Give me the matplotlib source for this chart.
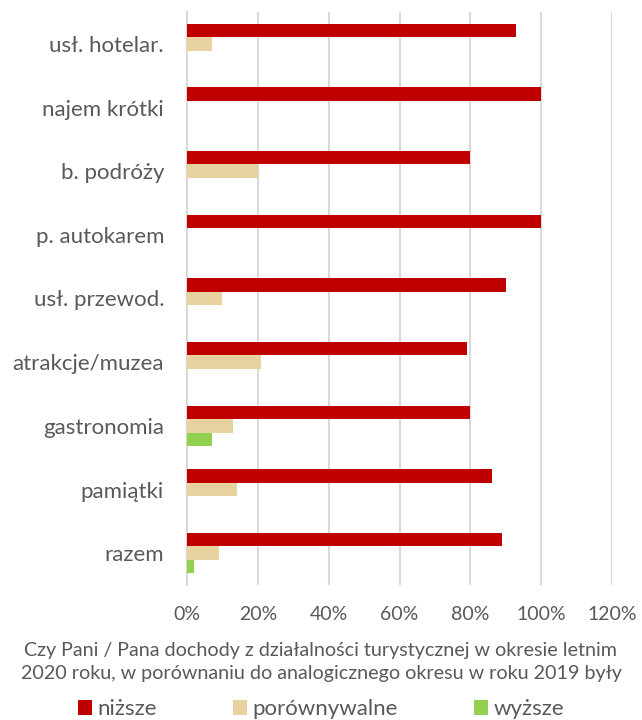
import numpy as np
import matplotlib.pyplot as plt

plt.rcParams['font.family'] = ['Lato', 'DejaVu Sans']

categories = ['usł. hotelar.', 'najem krótki', 'b. podróży', 'p. autokarem',
              'usł. przewod.', 'atrakcje/muzea', 'gastronomia', 'pamiątki', 'razem']
nizsze = [93, 100, 80, 100, 90, 79, 80, 86, 89]
porownywalne = [7, 0, 20, 0, 10, 21, 13, 14, 9]
wyzsze = [0, 0, 0, 0, 0, 0, 7, 0, 2]
series_names = ['niższe', 'porównywalne', 'wyższe']
colors = ['#C00000', '#E8D2A0', '#92D050']
xticks = [0, 20, 40, 60, 80, 100, 120]
title = ('Czy Pani / Pana dochody z działalności turystycznej w okresie letnim\n'
         '2020 roku, w porównaniu do analogicznego okresu w roku 2019 były')

text_col = '#595959'
grid_col = '#D9D9D9'

fig = plt.figure(figsize=(6.42, 7.2), dpi=100)
ax = fig.add_axes([187/642, 1 - 585/720, (612 - 187)/642, (585 - 12)/720])

y = np.arange(len(categories))
h = 0.21
for k, (vals, name, c) in enumerate(zip([nizsze, porownywalne, wyzsze], series_names, colors)):
    ax.barh(y + (k - 1) * h, vals, height=h, color=c, label=name, zorder=3)

ax.set_ylim(len(categories) - 0.5, -0.5)
ax.set_xlim(0, 120)
ax.set_xticks(xticks)
ax.set_xticklabels([f'{v}%' for v in xticks], fontsize=14, color=text_col)
ax.set_yticks(y)
ax.set_yticklabels(categories, fontsize=16, color=text_col)
ax.tick_params(axis='both', length=0)
ax.tick_params(axis='x', pad=15)
ax.tick_params(axis='y', pad=16.5)

ax.grid(axis='x', color=grid_col, linewidth=1.5, zorder=0)
for s in ['top', 'right', 'bottom']:
    ax.spines[s].set_visible(False)
ax.spines['left'].set_color(grid_col)
ax.spines['left'].set_linewidth(1.5)

fig.text(0.5, 1 - 662/720, title, ha='center', va='center', fontsize=14.2,
         color=text_col, linespacing=1.38)

fig.legend(loc='center', bbox_to_anchor=(0.5, 1 - 709/720), ncol=3, frameon=False,
           fontsize=16, labelcolor=text_col, handlelength=0.65, handleheight=0.65,
           handletextpad=0.25, columnspacing=3.4)

fig.savefig('out.png', dpi=100)
